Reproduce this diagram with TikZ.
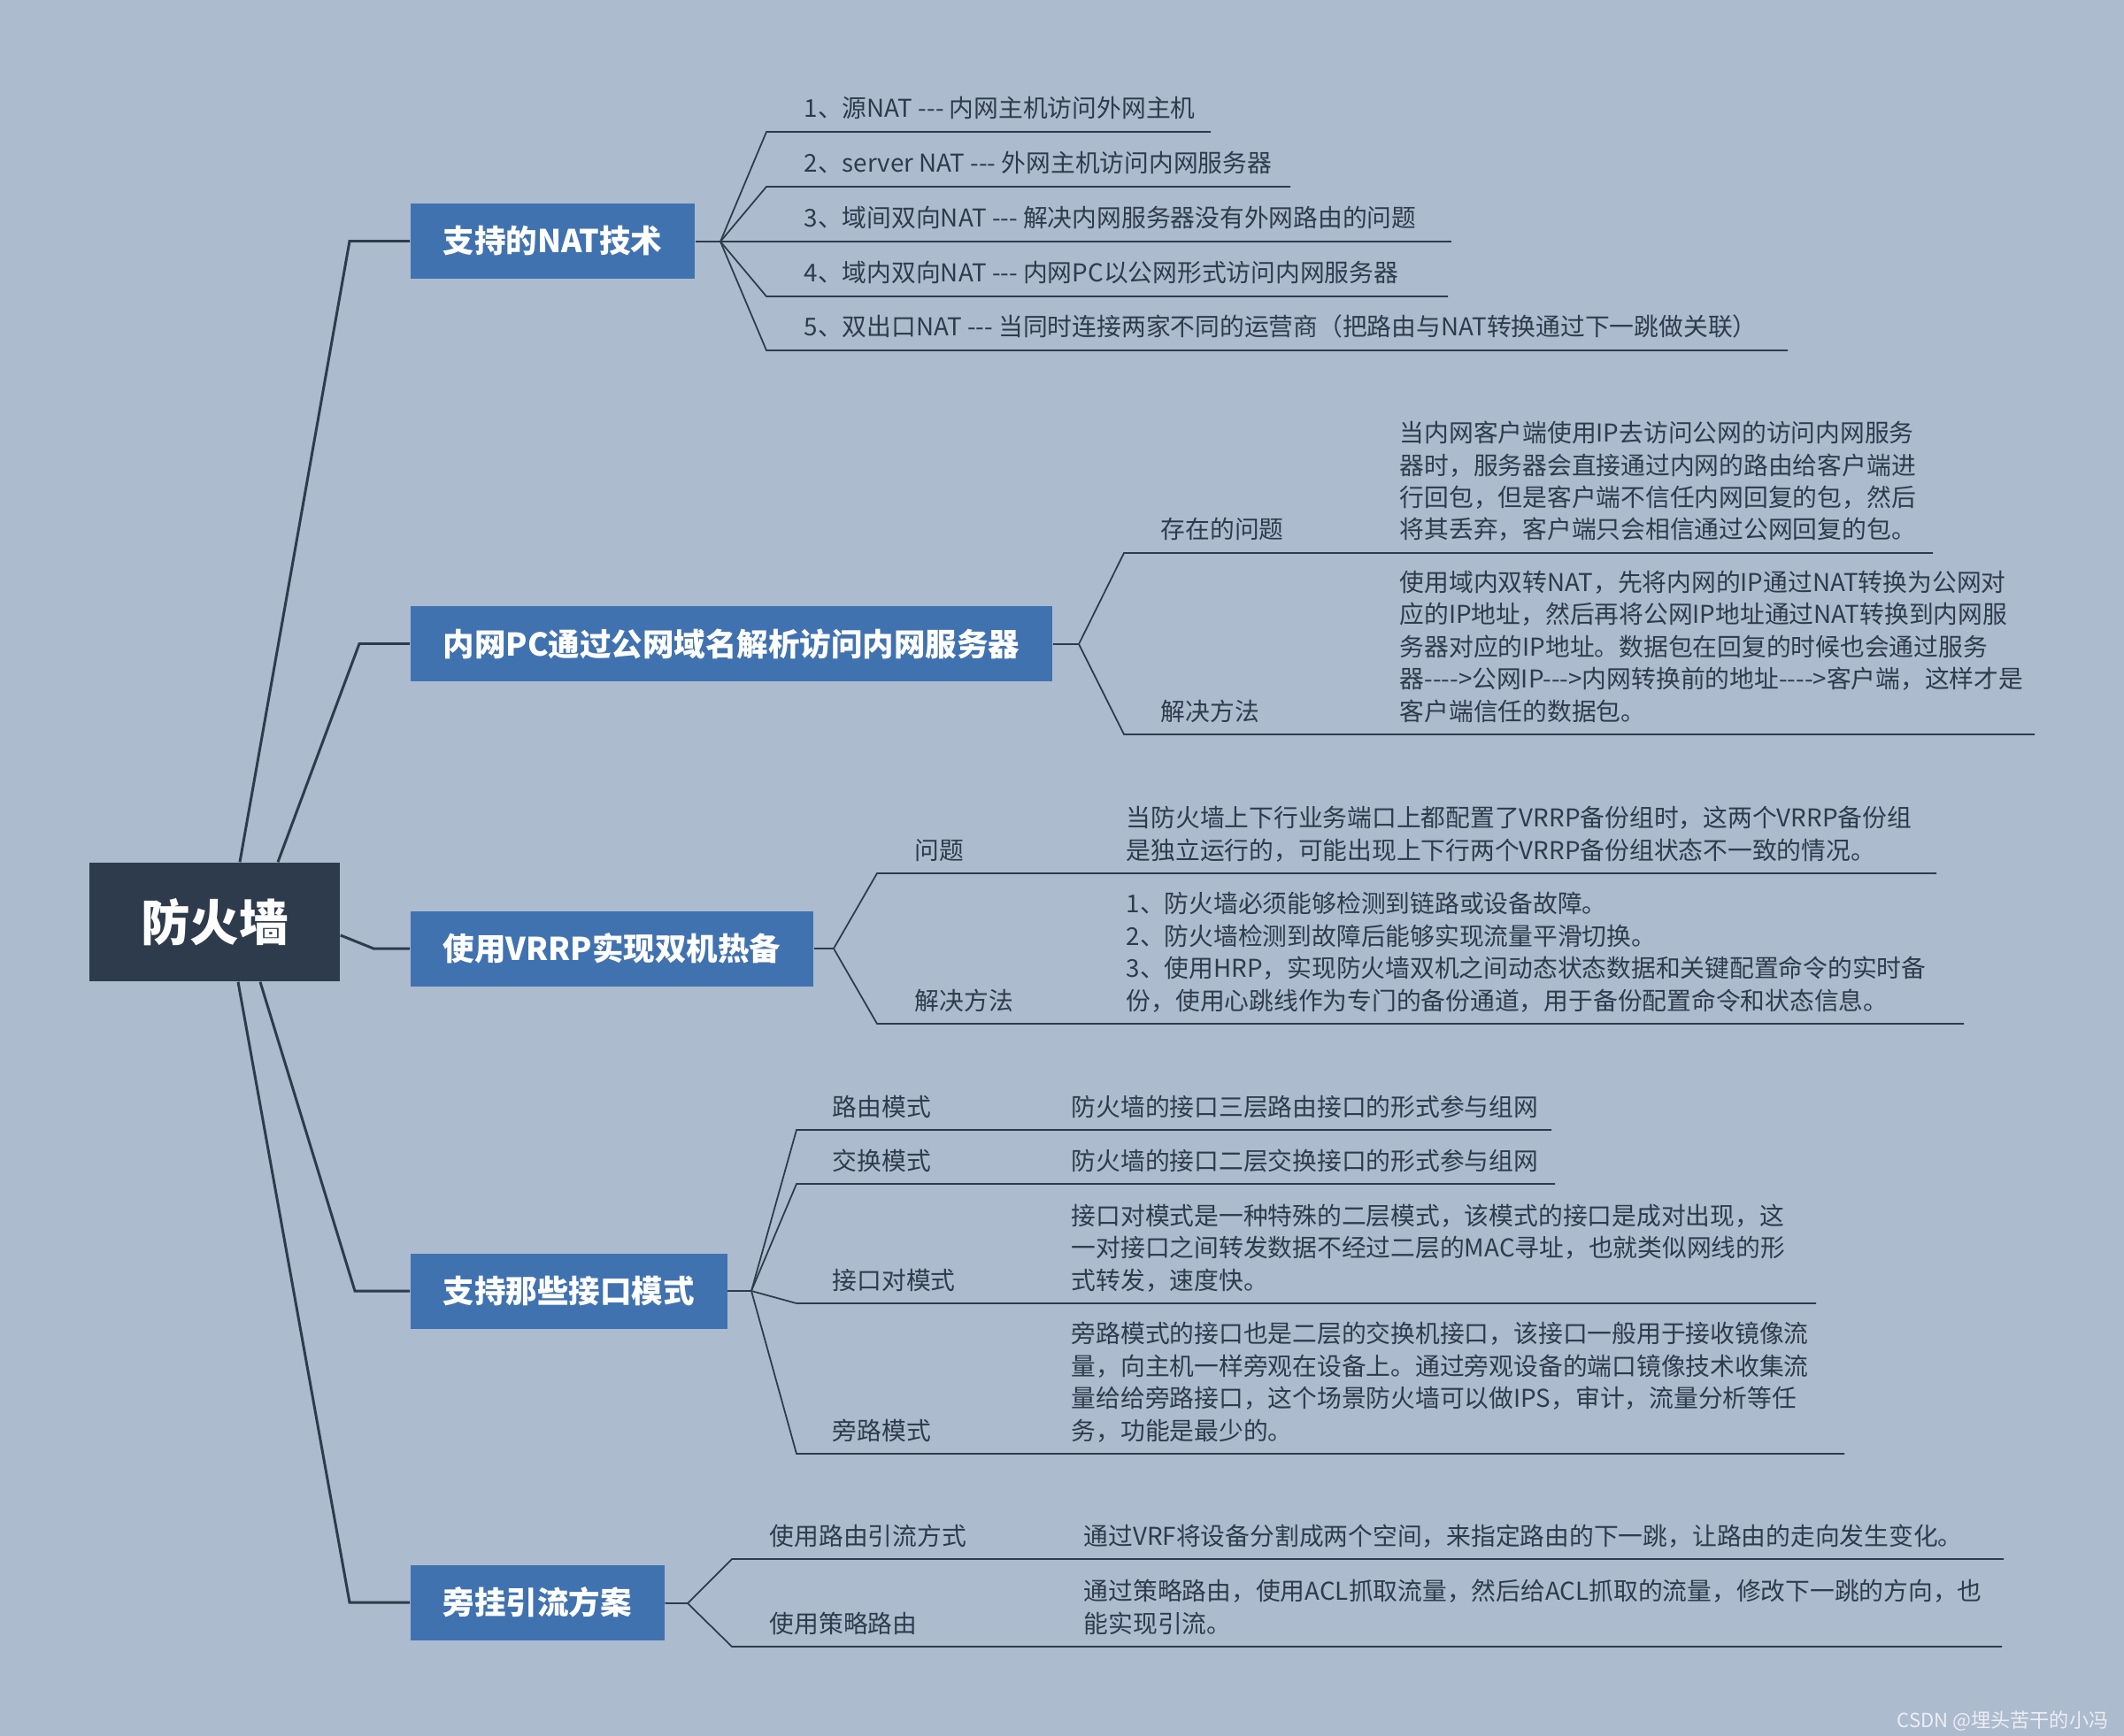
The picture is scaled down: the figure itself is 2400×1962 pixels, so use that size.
\documentclass[tikz,border=0pt]{standalone}
\usepackage{fontspec}
\setmainfont{Noto Sans CJK SC}
\usepackage{xcolor}
\usepackage{tikz}
\definecolor{bgc}{HTML}{ADBBCF}
\definecolor{rootc}{HTML}{2E3B4C}
\definecolor{topicc}{HTML}{4172B0}
\definecolor{inkc}{HTML}{2E3B4C}

\begin{document}
\begin{tikzpicture}[x=0.1mm, y=-0.1mm,
  root/.style={fill=rootc, text=white, font=\fontsize{15.8pt}{18pt}\selectfont\bfseries, minimum width=28.3mm, minimum height=13.4mm, inner sep=0},
  topic/.style={fill=topicc, text=white, font=\fontsize{10.1pt}{12pt}\selectfont\bfseries, anchor=west, inner xsep=3.7mm, inner ysep=0, minimum height=8.5mm},
  leaf/.style={anchor=base west, inner sep=0, text=inkc, font=\fontsize{7.9pt}{10.38pt}\selectfont},
  desc/.style={leaf, align=left},
  link/.style={draw=inkc, line width=0.85pt},
  sub/.style={draw=inkc, line width=0.5pt},
  wmark/.style={anchor=base east, inner sep=0, text=white!75!bgc, font=\fontsize{6.3pt}{7pt}\selectfont}]
  \fill[bgc] (0,0) rectangle (2400,1962);
  \useasboundingbox (0,0) rectangle (2400,1962);

  % root and main topics
  \node[root] (root) at (242.5,1042) {防火墙};
  \node[topic] (nat) at (463,272.5) {支持的NAT技术};
  \node[topic] (dns) at (463,727.5) {内网PC通过公网域名解析访问内网服务器};
  \node[topic] (vrrp) at (463,1072) {使用VRRP实现双机热备};
  \node[topic] (mode) at (463,1459) {支持那些接口模式};
  \node[topic] (bypass) at (463,1811) {旁挂引流方案};

  \draw[link] ([xshift=2.85mm]root.north) -- (395,272.5) -- (nat);
  \draw[link] ([xshift=7.15mm]root.north) -- (406,727.5) -- (dns);
  \draw[link] ([yshift=-1.5mm]root.east) -- (422,1072) -- (vrrp);
  \draw[link] ([xshift=5.15mm]root.south) -- (401,1459) -- (mode);
  \draw[link] ([xshift=2.65mm]root.south) -- (395,1811) -- (bypass);

  % NAT
  \coordinate (nat-hub) at (814,273);
  \draw[sub] (nat) -- (nat-hub);
  \foreach \i/\y/\ex/\txt in {1/149/1368/{1、源NAT -{}-{}- 内网主机访问外网主机},
      2/211/1458/{2、server NAT -{}-{}- 外网主机访问内网服务器},
      3/273/1640/{3、域间双向NAT -{}-{}- 解决内网服务器没有外网路由的问题},
      4/335/1636/{4、域内双向NAT -{}-{}- 内网PC以公网形式访问内网服务器},
      5/396/2020/{5、双出口NAT -{}-{}- 当同时连接两家不同的运营商（把路由与NAT转换通过下一跳做关联）}}{
    \coordinate (nat-\i) at (866,\y);
    \coordinate (nat-e\i) at (\ex,\y);
    \node[leaf] (nat-l\i) at (908,\y-16) {\txt};
    \draw[sub] (nat-hub) -- (nat-\i) -- (nat-e\i);
  }

  % DNS
  \coordinate (dns-hub) at (1219,728);
  \draw[sub] (dns) -- (dns-hub);
  \foreach \i/\y/\ex/\lab/\txt in {1/625/2184/存在的问题/{当内网客户端使用IP去访问公网的访问内网服务\\器时，服务器会直接通过内网的路由给客户端进\\行回包，但是客户端不信任内网回复的包，然后\\将其丢弃，客户端只会相信通过公网回复的包。},
      2/830/2299/解决方法/{使用域内双转NAT，先将内网的IP通过NAT转换为公网对\\应的IP地址，然后再将公网IP地址通过NAT转换到内网服\\务器对应的IP地址。数据包在回复的时候也会通过服务\\器-{}-{}-{}->公网IP-{}-{}->内网转换前的地址-{}-{}-{}->客户端，这样才是\\客户端信任的数据包。}}{
    \coordinate (dns-\i) at (1270,\y);
    \coordinate (dns-e\i) at (\ex,\y);
    \node[leaf] (dns-l\i) at (1311,\y-16) {\lab};
    \node[desc] (dns-d\i) at (1581,\y-16) {\txt};
    \draw[sub] (dns-hub) -- (dns-\i) -- (dns-e\i);
  }

  % VRRP
  \coordinate (vrrp-hub) at (942,1072);
  \draw[sub] (vrrp) -- (vrrp-hub);
  \foreach \i/\y/\ex/\lab/\txt in {1/987/2188/问题/{当防火墙上下行业务端口上都配置了VRRP备份组时，这两个VRRP备份组\\是独立运行的，可能出现上下行两个VRRP备份组状态不一致的情况。},
      2/1157/2219/解决方法/{1、防火墙必须能够检测到链路或设备故障。\\2、防火墙检测到故障后能够实现流量平滑切换。\\3、使用HRP，实现防火墙双机之间动态状态数据和关键配置命令的实时备\\份，使用心跳线作为专门的备份通道，用于备份配置命令和状态信息。}}{
    \coordinate (vrrp-\i) at (991,\y);
    \coordinate (vrrp-e\i) at (\ex,\y);
    \node[leaf] (vrrp-l\i) at (1033,\y-16) {\lab};
    \node[desc] (vrrp-d\i) at (1272,\y-16) {\txt};
    \draw[sub] (vrrp-hub) -- (vrrp-\i) -- (vrrp-e\i);
  }

  % interface modes
  \coordinate (mode-hub) at (849,1459);
  \draw[sub] (mode) -- (mode-hub);
  \foreach \i/\y/\ex/\lab/\txt in {1/1277/1753/路由模式/{防火墙的接口三层路由接口的形式参与组网},
      2/1338/1757/交换模式/{防火墙的接口二层交换接口的形式参与组网},
      3/1473/2052/接口对模式/{接口对模式是一种特殊的二层模式，该模式的接口是成对出现，这\\一对接口之间转发数据不经过二层的MAC寻址，也就类似网线的形\\式转发，速度快。},
      4/1643/2084/旁路模式/{旁路模式的接口也是二层的交换机接口，该接口一般用于接收镜像流\\量，向主机一样旁观在设备上。通过旁观设备的端口镜像技术收集流\\量给给旁路接口，这个场景防火墙可以做IPS，审计，流量分析等任\\务，功能是最少的。}}{
    \coordinate (mode-\i) at (900,\y);
    \coordinate (mode-e\i) at (\ex,\y);
    \node[leaf] (mode-l\i) at (940,\y-16) {\lab};
    \node[desc] (mode-d\i) at (1210,\y-16) {\txt};
    \draw[sub] (mode-hub) -- (mode-\i) -- (mode-e\i);
  }

  % bypass
  \coordinate (bypass-hub) at (777,1812);
  \draw[sub] (bypass) -- (bypass-hub);
  \foreach \i/\y/\ex/\lab/\txt in {1/1762/2264/使用路由引流方式/{通过VRF将设备分割成两个空间，来指定路由的下一跳，让路由的走向发生变化。},
      2/1861/2262/使用策略路由/{通过策略路由，使用ACL抓取流量，然后给ACL抓取的流量，修改下一跳的方向，也\\能实现引流。}}{
    \coordinate (bypass-\i) at (827,\y);
    \coordinate (bypass-e\i) at (\ex,\y);
    \node[leaf] (bypass-l\i) at (869,\y-16) {\lab};
    \node[desc] (bypass-d\i) at (1224,\y-16) {\txt};
    \draw[sub] (bypass-hub) -- (bypass-\i) -- (bypass-e\i);
  }

  \node[wmark] (csdn) at (2383,1952) {CSDN @埋头苦干的小冯};
\end{tikzpicture}
\end{document}
